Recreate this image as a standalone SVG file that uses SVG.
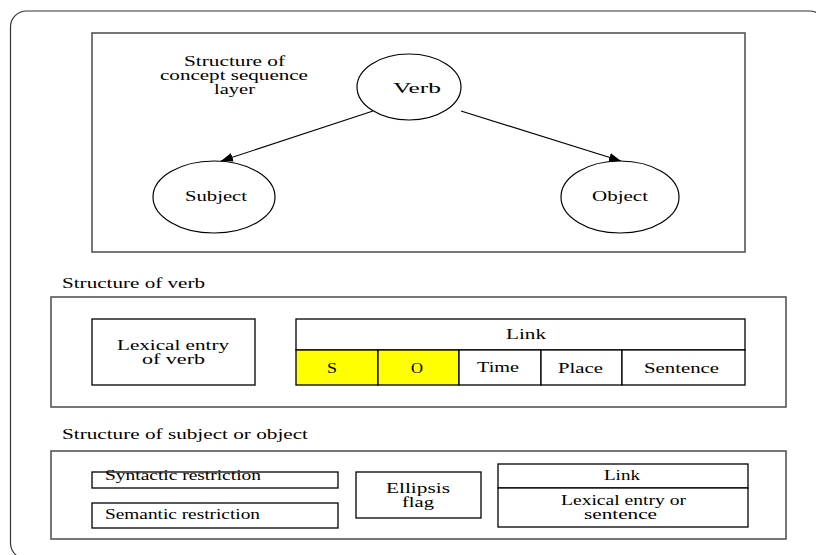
<svg xmlns="http://www.w3.org/2000/svg" width="816" height="555" viewBox="0 0 816 555">
  <style>
    text { font-family: "Liberation Serif", "Times New Roman", serif; font-size: 15px; fill: #000; }
    text.tight { font-size: 14px; }
    .frame { fill: none; stroke: #333; stroke-width: 1.2; }
    .panel { fill: #fff; stroke: #555; stroke-width: 1.6; }
    .box { fill: #fff; stroke: #000; stroke-width: 1.3; }
    .hi { fill: #ffff00; stroke: #000; stroke-width: 1.3; }
    .node { fill: #fff; stroke: #000; stroke-width: 1.2; }
    .edge { fill: none; stroke: #000; stroke-width: 1.1; }
  </style>
  <defs>
    <marker id="arrow" markerUnits="userSpaceOnUse" markerWidth="13" markerHeight="10" refX="12" refY="4.5" orient="auto">
      <path d="M0,0 L12,4.5 L0,9 z" fill="#000"/>
    </marker>
  </defs>

  <rect width="816" height="555" fill="#fff"/>
  <!-- outer rounded frame, running past the right and bottom edges -->
  <rect class="frame" x="10.5" y="11" width="815" height="548" rx="16"/>

  <!-- labels use a wide face: every text is scaled 1.4x horizontally, x values are pre-divided -->
  <g id="concept-layer">
    <rect class="panel" x="92" y="33" width="653" height="219"/>
    <text class="tight" transform="scale(1.4 1)" x="131.43" y="66" textLength="72.14" lengthAdjust="spacingAndGlyphs">Structure of</text>
    <text class="tight" transform="scale(1.4 1)" x="114.29" y="80" textLength="105.71" lengthAdjust="spacingAndGlyphs">concept sequence</text>
    <text class="tight" transform="scale(1.4 1)" x="152.86" y="94" textLength="29.29" lengthAdjust="spacingAndGlyphs">layer</text>
  </g>

  <g id="connectors">
    <line class="edge" x1="373" y1="111" x2="221" y2="161" marker-end="url(#arrow)"/>
    <line class="edge" x1="461" y1="111" x2="621" y2="161" marker-end="url(#arrow)"/>
  </g>

  <g id="verb-node">
    <ellipse class="node" cx="409" cy="87" rx="52" ry="33"/>
    <text transform="scale(1.4 1)" x="280.71" y="93" textLength="34.29" lengthAdjust="spacingAndGlyphs">Verb</text>
  </g>
  <g id="subject-node">
    <ellipse class="node" cx="214" cy="197" rx="61" ry="36"/>
    <text transform="scale(1.4 1)" x="132.14" y="201" textLength="44.29" lengthAdjust="spacingAndGlyphs">Subject</text>
  </g>
  <g id="object-node">
    <ellipse class="node" cx="620" cy="197" rx="59" ry="36"/>
    <text transform="scale(1.4 1)" x="422.86" y="201" textLength="40" lengthAdjust="spacingAndGlyphs">Object</text>
  </g>

  <!-- verb structure -->
  <g id="verb-structure">
    <text transform="scale(1.4 1)" x="44.29" y="288" textLength="102.14" lengthAdjust="spacingAndGlyphs">Structure of verb</text>
    <rect class="panel" x="51" y="297" width="735" height="110"/>
  </g>
  <g id="verb-lexical-entry">
    <rect class="box" x="92" y="319" width="163" height="66"/>
    <text class="tight" transform="scale(1.4 1)" x="83.57" y="350" textLength="80" lengthAdjust="spacingAndGlyphs">Lexical entry</text>
    <text class="tight" transform="scale(1.4 1)" x="101.43" y="364" textLength="45" lengthAdjust="spacingAndGlyphs">of verb</text>
  </g>
  <g id="verb-link">
    <rect class="box" x="296" y="319" width="449" height="31"/>
    <text transform="scale(1.4 1)" x="361.43" y="339" textLength="28.57" lengthAdjust="spacingAndGlyphs">Link</text>
    <rect class="hi" x="296" y="350" width="82" height="35"/>
    <rect class="hi" x="378" y="350" width="81" height="35"/>
    <rect class="box" x="459" y="350" width="82" height="35"/>
    <rect class="box" x="541" y="350" width="81" height="35"/>
    <rect class="box" x="622" y="350" width="123" height="35"/>
    <text transform="scale(1.4 1)" x="233.57" y="373" textLength="7.14" lengthAdjust="spacingAndGlyphs">S</text>
    <text transform="scale(1.4 1)" x="293.57" y="373" textLength="8.57" lengthAdjust="spacingAndGlyphs">O</text>
    <text transform="scale(1.4 1)" x="340.71" y="372" textLength="30" lengthAdjust="spacingAndGlyphs">Time</text>
    <text transform="scale(1.4 1)" x="398.57" y="373" textLength="32.14" lengthAdjust="spacingAndGlyphs">Place</text>
    <text transform="scale(1.4 1)" x="460" y="373" textLength="53.57" lengthAdjust="spacingAndGlyphs">Sentence</text>
  </g>

  <!-- subject / object structure -->
  <g id="case-structure">
    <text transform="scale(1.4 1)" x="44.29" y="439" textLength="175.71" lengthAdjust="spacingAndGlyphs">Structure of subject or object</text>
    <rect class="panel" x="51" y="451" width="735" height="88"/>
  </g>
  <g id="syntactic-restriction">
    <rect class="box" x="92" y="472" width="246" height="16"/>
    <text transform="scale(1.4 1)" x="75" y="480" textLength="111.43" lengthAdjust="spacingAndGlyphs">Syntactic restriction</text>
  </g>
  <g id="semantic-restriction">
    <rect class="box" x="92" y="503" width="246" height="25"/>
    <text transform="scale(1.4 1)" x="75" y="519" textLength="110.71" lengthAdjust="spacingAndGlyphs">Semantic restriction</text>
  </g>
  <g id="ellipsis-flag">
    <rect class="box" x="356" y="472" width="125" height="46"/>
    <text class="tight" transform="scale(1.4 1)" x="275.71" y="493" textLength="45.71" lengthAdjust="spacingAndGlyphs">Ellipsis</text>
    <text class="tight" transform="scale(1.4 1)" x="287.14" y="507" textLength="22.86" lengthAdjust="spacingAndGlyphs">flag</text>
  </g>
  <g id="case-link">
    <rect class="box" x="498" y="464" width="250" height="24"/>
    <rect class="box" x="498" y="488" width="250" height="39"/>
    <text transform="scale(1.4 1)" x="431.43" y="480" textLength="25.71" lengthAdjust="spacingAndGlyphs">Link</text>
    <text class="tight" transform="scale(1.4 1)" x="400.71" y="505" textLength="89.29" lengthAdjust="spacingAndGlyphs">Lexical entry or</text>
    <text class="tight" transform="scale(1.4 1)" x="417.14" y="519" textLength="52.14" lengthAdjust="spacingAndGlyphs">sentence</text>
  </g>
</svg>
